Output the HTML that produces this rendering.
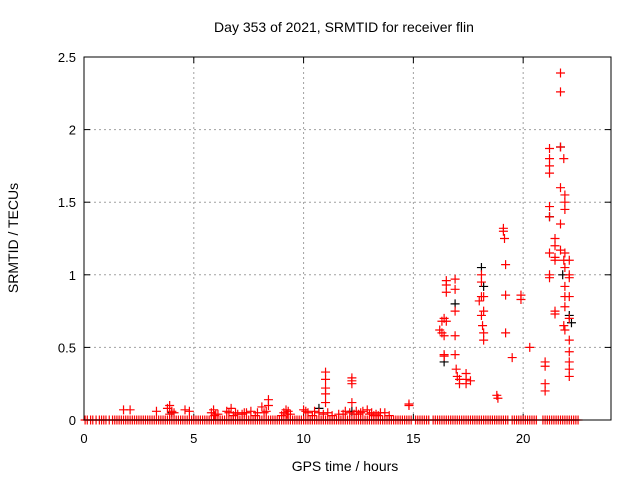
<!DOCTYPE html>
<html><head><meta charset="utf-8"><style>
body{margin:0;background:#fff;}
svg{display:block;font-family:"Liberation Sans",sans-serif;}
</style></head><body>
<svg id="chart" width="640" height="480">
<rect width="640" height="480" fill="#fff"/>
<text x="344" y="32" font-size="14" text-anchor="middle">Day 353 of 2021, SRMTID for receiver flin</text>
<text x="345" y="471" font-size="14" text-anchor="middle">GPS time / hours</text>
<text transform="translate(18,238) rotate(-90)" font-size="14" text-anchor="middle">SRMTID / TECUs</text>
<g id="grid"></g><g id="ticks"></g><g id="marks"></g>
<rect x="84" y="57" width="527" height="363" fill="none" stroke="#000" stroke-width="1"/>
</svg>
<script>
const xTicks=[0,5,10,15,20];
const yTicks=[0,0.5,1,1.5,2,2.5];
const yTickLabels=["0","0.5","1","1.5","2","2.5"];
const zeroHours=[0.05,0.15,0.3,0.4,0.55,0.7,0.8,0.9,1.0,1.15,1.3,1.4,1.5,1.6,1.7,1.8,1.9,2.0,2.1,2.2,2.3,2.4,2.5,2.6,2.7,2.8,2.9,3.0,3.1,3.2,3.3,3.4,3.5,3.6,3.7,3.8,3.9,4.0,4.1,4.2,4.3,4.4,4.5,4.6,4.7,4.8,4.9,5.0,5.1,5.2,5.3,5.4,5.5,5.6,5.7,5.8,5.9,6.0,6.1,6.2,6.3,6.4,6.5,6.6,6.7,6.8,6.9,7.0,7.1,7.2,7.3,7.4,7.5,7.6,7.7,7.8,7.9,8.0,8.1,8.2,8.3,8.4,8.5,8.6,8.7,8.8,8.9,9.0,9.1,9.2,9.3,9.4,9.5,9.6,9.7,9.8,9.9,10.0,10.1,10.2,10.3,10.4,10.5,10.6,10.7,10.8,10.9,11.0,11.1,11.2,11.3,11.4,11.5,11.6,11.7,11.8,11.9,12.0,12.1,12.2,12.3,12.4,12.5,12.6,12.7,12.8,12.9,13.0,13.1,13.2,13.3,13.4,13.5,13.6,13.7,13.8,13.9,14.0,14.1,14.2,14.3,14.4,14.5,14.6,14.7,14.8,14.9,15.1,15.2,15.3,15.4,15.5,15.6,15.7,15.9,16.0,16.1,16.2,16.3,16.4,16.5,16.6,16.7,16.8,16.9,17.0,17.1,17.2,17.3,17.4,17.5,17.6,17.7,17.8,17.9,18.0,18.1,18.2,18.3,18.4,18.5,18.6,18.7,18.8,18.9,19.0,19.1,19.2,19.3,19.5,19.6,19.7,19.8,19.9,20.0,20.1,20.2,20.3,20.4,20.5,20.6,20.9,21.0,21.1,21.2,21.3,21.4,21.5,21.6,21.7,21.8,21.9,22.0,22.1,22.2,22.3,22.4,22.5];
const lowHours=[1.8,2.1,3.3,3.8,3.9,4.0,4.6,4.8,5.8,5.9,6.0,6.5,6.7,6.9,7.0,7.3,7.6,7.9,8.1,8.3,8.4,8.4,9.1,9.2,9.3,9.4,10.0,10.1,10.5,10.7,
3.9,4.1,5.95,6.1,6.6,6.8,7.2,7.4,7.8,8.2,9.0,9.25,10.2,10.4,10.9,11.3,11.8,12.1,12.5,12.7,13.0,13.2,13.5,13.9,13.4,12.3,
11.0,11.0,11.0,11.0,11.0,11.1,11.6,11.9,
12.2,12.2,12.2,12.2,12.4,12.6,12.9,13.1,13.3,13.7,14.8,14.8];
const lowValues=[0.07,0.07,0.06,0.08,0.1,0.06,0.07,0.06,0.05,0.07,0.04,0.06,0.08,0.05,0.04,0.05,0.06,0.05,0.09,0.06,0.14,0.1,0.05,0.07,0.06,0.04,0.07,0.06,0.06,0.05,
0.04,0.05,0.03,0.04,0.05,0.03,0.04,0.05,0.03,0.05,0.03,0.04,0.05,0.03,0.04,0.03,0.04,0.05,0.04,0.06,0.04,0.03,0.05,0.03,0.03,0.04,
0.33,0.28,0.22,0.18,0.12,0.05,0.04,0.06,
0.29,0.27,0.25,0.12,0.06,0.05,0.07,0.05,0.04,0.05,0.11,0.1];
const midHours=[16.2,16.3,16.3,16.4,16.4,16.4,16.4,16.5,16.5,16.5,16.5,
16.9,16.9,16.9,16.9,16.9,16.95,17.0,17.1,17.1,
17.4,17.4,17.4,17.6,
18.0,18.1,18.1,18.1,18.1,18.15,18.2,18.2,18.2,18.2,
18.8,18.85,
19.1,19.1,19.15,19.2,19.2,19.2,19.5,19.9,19.9,20.3];
const midValues=[0.62,0.68,0.6,0.7,0.58,0.45,0.44,0.96,0.93,0.88,0.68,
0.97,0.9,0.75,0.58,0.45,0.35,0.3,0.28,0.25,
0.32,0.28,0.25,0.27,
0.82,0.85,1.0,0.95,0.72,0.65,0.75,0.6,0.55,0.85,
0.17,0.15,
1.32,1.3,1.25,0.86,1.07,0.6,0.43,0.86,0.83,0.5];
const lateHours=[21.0,21.0,21.0,21.0,
21.2,21.2,21.2,21.2,21.2,21.2,21.2,21.2,21.2,
21.45,21.45,21.45,21.45,21.45,21.45,
21.7,21.7,21.7,21.7,21.7,21.7,
21.85,21.9,21.9,21.9,21.9,21.85,21.9,21.9,21.9,21.9,21.85,21.9,
22.1,22.1,22.1,22.1,22.1,22.1,22.1,22.1,22.1,22.1];
const lateValues=[0.4,0.37,0.25,0.2,
1.87,1.8,1.75,1.7,1.47,1.4,1.15,1.0,0.98,
1.25,1.2,1.12,1.1,0.75,0.73,
2.39,2.26,1.88,1.6,1.35,1.17,
1.8,1.55,1.5,1.45,1.15,1.1,1.05,0.92,0.85,0.78,0.65,0.62,
0.98,0.85,0.7,0.55,0.47,0.4,0.35,0.3,1.1,1.0];
const blackHours=[16.4,16.9,18.1,18.2,21.2,21.7,21.8,22.1,22.2,4.0,10.7,12.2];
const blackValues=[0.4,0.8,1.05,0.92,1.4,1.88,1.0,0.72,0.67,0.05,0.08,0.06];
const X0=84,X1=611,Y0=420,Y1=57,XMAX=24,YMAX=2.5;
const sx=h=>X0+(X1-X0)*h/XMAX, sy=v=>Y0-(Y0-Y1)*v/YMAX;
const NS="http://www.w3.org/2000/svg";
function mk(t,a,p){const e=document.createElementNS(NS,t);for(const k in a)e.setAttribute(k,a[k]);p.appendChild(e);return e;}
const grid=document.getElementById('grid'),ticks=document.getElementById('ticks'),marks=document.getElementById('marks');
xTicks.forEach(t=>{const x=sx(t);
 if(t>0){const g=mk('line',{x1:x,x2:x,y1:Y1,y2:Y0,stroke:'#a0a0a0','stroke-dasharray':'2,3'},grid);
 
 }
 mk('line',{x1:x,x2:x,y1:Y0,y2:Y0-6,stroke:'#000'},ticks);mk('line',{x1:x,x2:x,y1:Y1,y2:Y1+6,stroke:'#000'},ticks);
 const l=mk('text',{x:x,y:443,'font-size':13,'text-anchor':'middle'},ticks);l.textContent=t;
 
 });
yTicks.forEach((t,i)=>{const y=sy(t);
 if(t>0&&t<YMAX){const g=mk('line',{x1:X0,x2:X1,y1:y,y2:y,stroke:'#a0a0a0','stroke-dasharray':'2,3'},grid);
 
 }
 mk('line',{x1:X0,x2:X0+6,y1:y,y2:y,stroke:'#000'},ticks);mk('line',{x1:X1,x2:X1-6,y1:y,y2:y,stroke:'#000'},ticks);
 const l=mk('text',{x:76,y:y+5,'font-size':13,'text-anchor':'end'},ticks);l.textContent=yTickLabels[i];
 
 });
function plus(h,v,c,name){const x=sx(h),y=sy(v);
 const p=mk('path',{d:`M${x-4.5},${y}H${x+4.5}M${x},${y-4.5}V${y+4.5}`,stroke:c,'stroke-width':1.2,fill:'none'},marks);
 
 }
blackHours.forEach((h,i)=>plus(h,blackValues[i],'#000','black-point'));
zeroHours.forEach(h=>plus(h,0,'#f00','zero-point'));
lowHours.forEach((h,i)=>plus(h,lowValues[i],'#f00','red-point'));
midHours.forEach((h,i)=>plus(h,midValues[i],'#f00','red-point'));
lateHours.forEach((h,i)=>plus(h,lateValues[i],'#f00','red-point'));
</script>
</body></html>
